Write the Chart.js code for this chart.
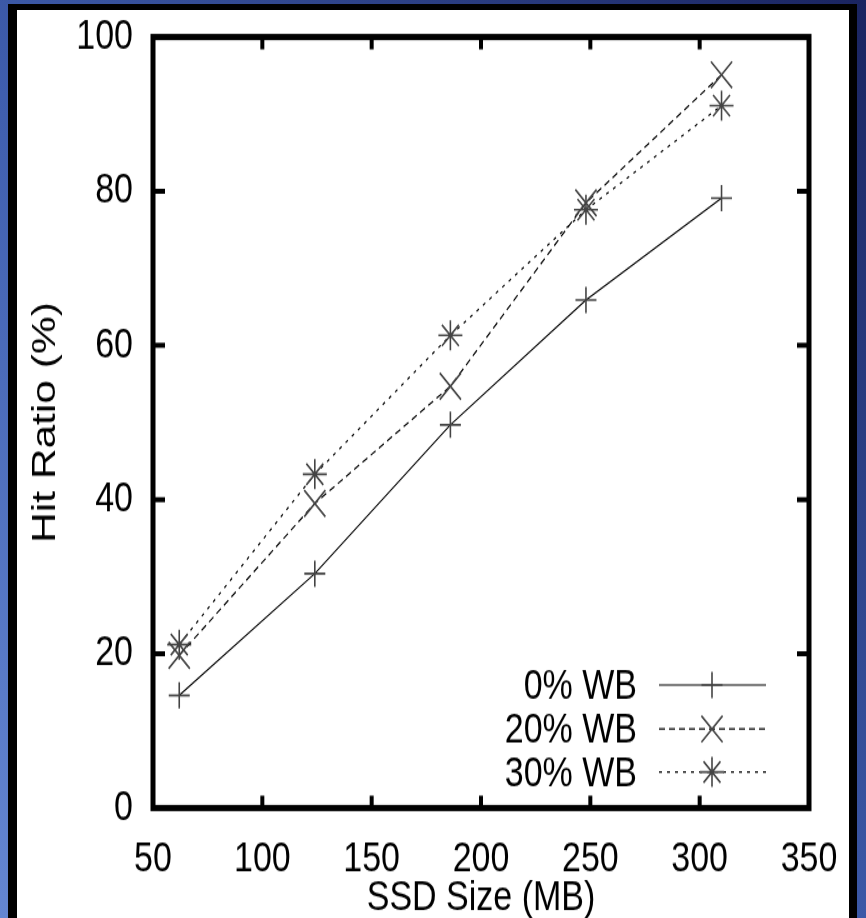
<!DOCTYPE html>
<html>
<head>
<meta charset="utf-8">
<script src="https://cdn.jsdelivr.net/npm/chart.js@4.4.0/dist/chart.umd.min.js"></script>
<style>
  body { margin: 0; width: 866px; height: 918px; overflow: hidden;
         background: linear-gradient(to top right, #6486d2, #3f5eae 45%, #1a2460); }
  #frame { position: absolute; left: 8px; top: 4px; width: 832px; height: 914px; overflow: hidden;
           border: solid #000; border-width: 6px 8px 0 9px; background: #fff; }
  /* the original figure was stretched vertically */
  #stretch { transform: scaleY(1.25); transform-origin: 0 0; }
  canvas { display: block; }
</style>
</head>
<body>
<div id="frame"><div id="stretch"><canvas id="c" width="832" height="731"></canvas></div></div>
<script>
// SSD sizes (MB) and hit ratios (%)
const sizes = [62, 124, 186, 248, 310];
const wb0 = [14.6, 30.4, 49.7, 65.9, 79.1];
const wb20 = [19.8, 39.5, 54.7, 78.5, 95.1];
const wb30 = [21.2, 43.3, 61.3, 77.6, 91.1];
const seriesNames = ["0% WB", "20% WB", "30% WB"];
const xRange = [50, 350, 50];
const yRange = [0, 100, 20];

const FONT = "'Liberation Sans', Arial, Helvetica, sans-serif";

function pts(vals) {
  return sizes.map((x, i) => ({ x: x, y: vals[i] }));
}

function series(label, vals, style, radius, dash) {
  return {
    label: label,
    data: pts(vals),
    showLine: true,
    borderColor: "#000",
    borderWidth: 1.2,
    borderDash: dash,
    pointStyle: style,
    pointRadius: radius,
    pointBorderColor: "#444",
    pointBorderWidth: 1.6,
    pointBackgroundColor: "#444"
  };
}

// thick box round the plot with inward ticks on all four sides
const frameTicks = {
  id: "frameTicks",
  afterDraw(chart) {
    const ctx = chart.ctx, a = chart.chartArea;
    const xs = chart.scales.x, ys = chart.scales.y;
    ctx.save();
    ctx.strokeStyle = "#000";
    ctx.lineWidth = 4;
    ctx.beginPath();
    xs.ticks.forEach(t => {
      if (t.value <= xs.min || t.value >= xs.max) return;
      const px = xs.getPixelForValue(t.value);
      ctx.moveTo(px, a.bottom); ctx.lineTo(px, a.bottom - 10);
      ctx.moveTo(px, a.top); ctx.lineTo(px, a.top + 10);
    });
    ys.ticks.forEach(t => {
      if (t.value <= ys.min || t.value >= ys.max) return;
      const py = ys.getPixelForValue(t.value);
      ctx.moveTo(a.left, py); ctx.lineTo(a.left + 12, py);
      ctx.moveTo(a.right, py); ctx.lineTo(a.right - 12, py);
    });
    ctx.stroke();
    ctx.lineWidth = 5;
    ctx.strokeRect(a.left, a.top, a.right - a.left, a.bottom - a.top);
    ctx.restore();
  }
};

// gnuplot-style key: text on the left, line sample with marker on the right
const keyBox = {
  id: "keyBox",
  afterDraw(chart) {
    const ctx = chart.ctx, a = chart.chartArea;
    const rows = [a.bottom - 98.4, a.bottom - 63.2, a.bottom - 28.8];
    ctx.save();
    chart.data.datasets.forEach((ds, i) => {
      const y = rows[i];
      ctx.fillStyle = "#000";
      ctx.font = "34px " + FONT;
      ctx.textAlign = "right";
      ctx.textBaseline = "middle";
      ctx.fillText(ds.label, a.right - 172, y + 1.6);
      ctx.strokeStyle = ds.borderColor;
      ctx.lineWidth = ds.borderWidth;
      ctx.setLineDash(ds.borderDash || []);
      ctx.beginPath();
      ctx.moveTo(a.right - 150, y);
      ctx.lineTo(a.right - 43, y);
      ctx.stroke();
      ctx.setLineDash([]);
      ctx.strokeStyle = ds.pointBorderColor;
      ctx.fillStyle = ds.pointBackgroundColor;
      ctx.lineWidth = ds.pointBorderWidth;
      Chart.helpers.drawPoint(ctx, { pointStyle: ds.pointStyle, radius: ds.pointRadius, rotation: 0, borderWidth: ds.pointBorderWidth }, a.right - 97, y);
    });
    ctx.restore();
  }
};

new Chart(document.getElementById("c"), {
  type: "scatter",
  data: {
    datasets: [
      series(seriesNames[0], wb0, "cross", 10.5, []),
      series(seriesNames[1], wb20, "crossRot", 15, [6, 4]),
      series(seriesNames[2], wb30, "star", 12, [3, 5])
    ]
  },
  options: {
    responsive: false,
    animation: false,
    devicePixelRatio: 1,
    layout: { padding: { top: 21.6, right: 40, left: 0, bottom: 0 } },
    plugins: { legend: { display: false }, tooltip: { enabled: false } },
    scales: {
      x: {
        type: "linear",
        min: xRange[0], max: xRange[1],
        afterFit(s) { s.height = 92.6; s.paddingLeft = 0; s.paddingRight = 0; },
        border: { display: false },
        grid: { display: false, drawTicks: false },
        ticks: { stepSize: xRange[2], padding: 21, color: "#000", font: { size: 34, family: FONT } },
        title: { display: true, text: "SSD Size (MB)", color: "#000", font: { size: 34, family: FONT }, padding: { top: 0, bottom: 0 } }
      },
      y: {
        min: yRange[0], max: yRange[1],
        afterFit(s) { s.width = 136; s.paddingTop = 0; s.paddingBottom = 0; },
        border: { display: false },
        grid: { display: false, drawTicks: false },
        ticks: { stepSize: yRange[2], padding: 20, color: "#000", font: { size: 34, family: FONT } },
        title: { display: true, text: "Hit Ratio (%)", color: "#000", font: { size: 34, family: FONT }, padding: { top: 8, bottom: 0 } }
      }
    }
  },
  plugins: [frameTicks, keyBox]
});
</script>
</body>
</html>
